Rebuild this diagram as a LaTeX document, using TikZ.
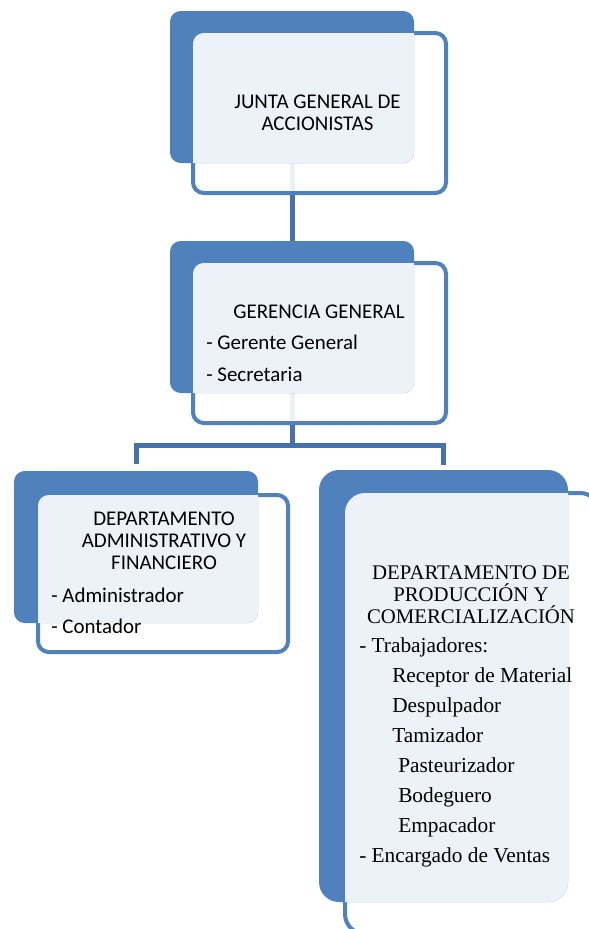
\documentclass[tikz,border=0pt]{standalone}
\usepackage{fontspec}
\setmainfont{Carlito}
\newfontfamily\serifface{Liberation Serif}
\usetikzlibrary{fit, backgrounds}
\definecolor{orgblue}{HTML}{4F81BD}
\definecolor{orgline}{HTML}{4672AA}

\begin{document}
\begin{tikzpicture}[x=0.75pt, y=-0.75pt,
  backbox/.style={fill=orgblue, rounded corners=8pt, inner sep=0pt, outer sep=0pt},
  frontbox/.style={draw=orgblue, line width=3pt, fill=white, fill opacity=0.9,
                   rounded corners=8pt, inner sep=0pt, outer sep=0pt},
  wash/.style={fill=white, fill opacity=0.9},
  title/.style={font=\fontsize{15.7}{16.5}\selectfont, align=center, anchor=base, inner sep=0pt},
  items/.style={font=\fontsize{15.7}{24}\selectfont, align=left, anchor=base west, inner sep=0pt},
  conn/.style={draw=orgline, line width=3.75pt}
]
  \useasboundingbox (0,0) rectangle (589,929);
  \clip (0,0) rectangle (589,929);

  % Junta general
  \node[frontbox, fit={(193,33) (446,193)}] (juntaF) {};
  \node[backbox, fit={(170,11) (414,163)}] (juntaB) {};
  \begin{scope}
    \clip[rounded corners=8pt] (juntaB.south west) rectangle (juntaB.north east);
    \fill[wash, rounded corners=8pt] (juntaF.south west) rectangle (juntaF.north east);
  \end{scope}
  \node[title] (juntaT) at (317.5,130) {JUNTA GENERAL DE\\ACCIONISTAS};

  % Gerencia general
  \node[frontbox, fit={(193,263) (446,423)}] (gerF) {};
  \node[backbox, fit={(170,241) (414,393)}] (gerB) {};
  \begin{scope}
    \clip[rounded corners=8pt] (gerB.south west) rectangle (gerB.north east);
    \fill[wash, rounded corners=8pt] (gerF.south west) rectangle (gerF.north east);
  \end{scope}
  \node[title] (gerT) at (319,318) {GERENCIA GENERAL};
  \node[items] (gerL) at (206,381) {- Gerente General\\- Secretaria};

  % Departamento administrativo
  \node[frontbox, fit={(38,495) (288,652)}] (admF) {};
  \node[backbox, fit={(14,471) (258,623)}] (admB) {};
  \begin{scope}
    \clip[rounded corners=8pt] (admB.south west) rectangle (admB.north east);
    \fill[wash, rounded corners=8pt] (admF.south west) rectangle (admF.north east);
  \end{scope}
  \node[title] (admT) at (164,569) {DEPARTAMENTO\\ADMINISTRATIVO Y\\FINANCIERO};
  \node[items, font=\fontsize{15.7}{23.25}\selectfont] (admL) at (51,633) {- Administrador\\- Contador};

  % Departamento de produccion
  \node[frontbox, rounded corners=15pt, fit={(345,493) (600,934)}] (prodF) {};
  \node[backbox, rounded corners=15pt, fit={(319,470) (568,902)}] (prodB) {};
  \begin{scope}
    \clip[rounded corners=15pt] (prodB.south west) rectangle (prodB.north east);
    \fill[wash, rounded corners=15pt] (prodF.south west) rectangle (prodF.north east);
  \end{scope}
  \node[title, font=\serifface\fontsize{15.6}{16.2}\selectfont] (prodT) at (471,623)
    {DEPARTAMENTO DE\\PRODUCCIÓN Y\\COMERCIALIZACIÓN};
  \node[items, font=\serifface\fontsize{16}{22.5}\selectfont] (prodL) at (359,862)
    {- Trabajadores:\\
     \hspace*{24.75pt}Receptor de Material\\
     \hspace*{24.75pt}Despulpador\\
     \hspace*{24.75pt}Tamizador\\
     \hspace*{29.25pt}Pasteurizador\\
     \hspace*{29.25pt}Bodeguero\\
     \hspace*{29.25pt}Empacador\\
     - Encargado de Ventas};

  % connectors
  \begin{scope}[on background layer]
    \coordinate (split) at (292,445);
    \draw[conn] (juntaB) -- (gerB);
    \draw[conn] (gerB) -- (split);
    \draw[conn, shorten >=5pt] (split) -| (admB.north);
    \draw[conn, shorten >=4pt] (split) -| (prodB.north);
  \end{scope}
\end{tikzpicture}
\end{document}
